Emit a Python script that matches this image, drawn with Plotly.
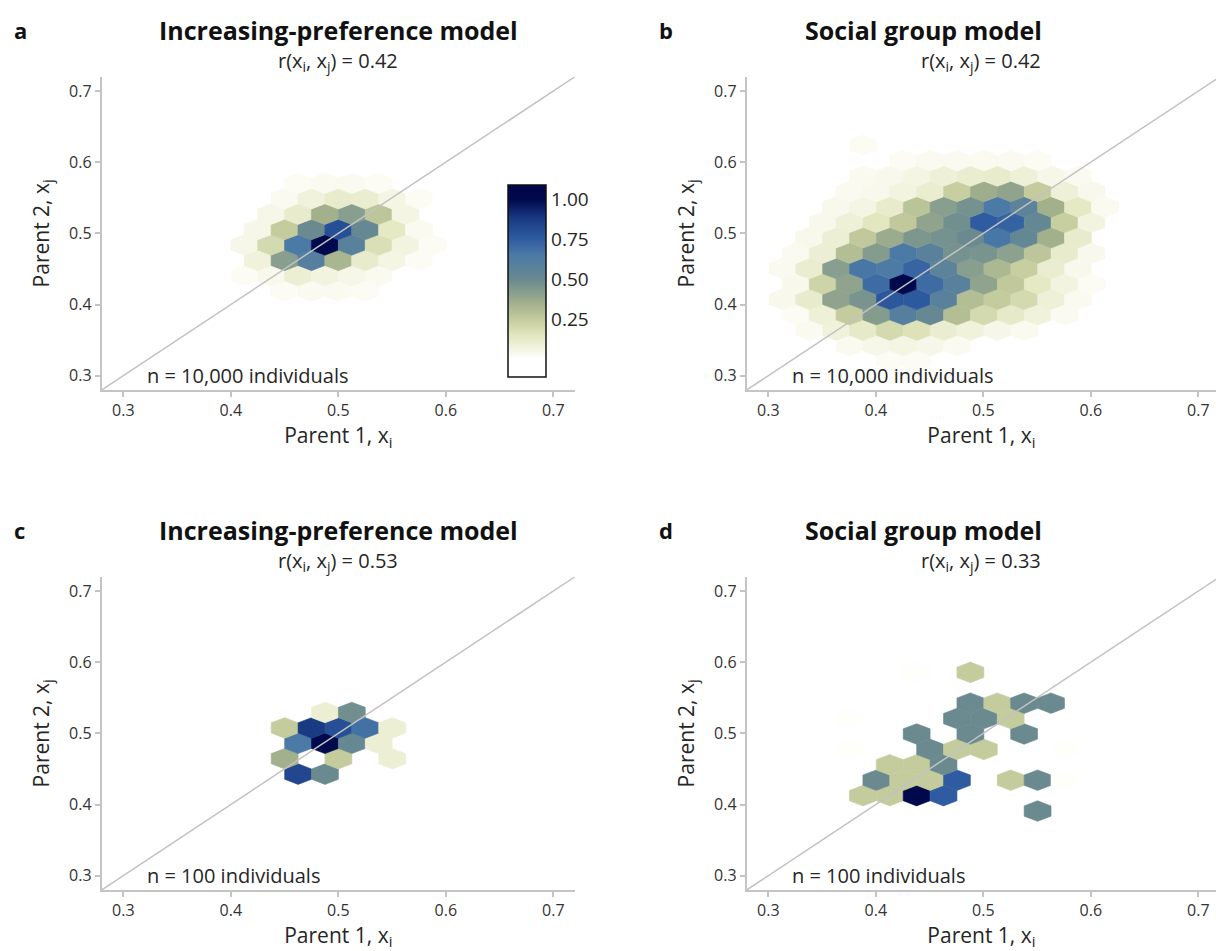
import plotly.graph_objects as go

W, H = 1216, 951
FONT = "Open Sans"
TEXT = "#262626"
AXIS_GREY = "#c4c4c4"

# hexagon geometry (pointy-top hexes, regular in data units)
HEX_W = 0.025
HEX_R = HEX_W / 3 ** 0.5
ROW_STEP = 1.5 * HEX_R

TICKS = [0.3, 0.4, 0.5, 0.6, 0.7]
TICK_TEXT = ["0.3", "0.4", "0.5", "0.6", "0.7"]
AX_RANGE = [0.28, 0.72]

# fill scale: value -> colour
FILL_STOPS = [
    (-0.11, "#ffffff"), (0.0, "#ffffff"), (0.03, "#fafaf0"), (0.08, "#f1f2dc"),
    (0.15, "#e3e7c0"), (0.25, "#c4cc9e"), (0.35, "#a2b08c"), (0.50, "#6a8a90"),
    (0.65, "#4c7aa6"), (0.75, "#2f5ca0"), (0.88, "#1a3a84"), (1.00, "#00094c"),
    (1.09, "#00074a"),
]
CB_MIN, CB_MAX = FILL_STOPS[0][0], FILL_STOPS[-1][0]

# ---- panel a: increasing-preference model, n = 10,000 ----
A_REF = (0.4875, 0.4837)
A_ROWS = [-3, -2, -1, 0, 1, 2, 3, 4]
A_START = [-2, -3, -3, -3, -3, -2, -2, -1]
A_VALUES = [
    [0.02, 0.03, 0.03, 0.02],
    [0.02, 0.04, 0.10, 0.07, 0.05, 0.03],
    [0.08, 0.42, 0.60, 0.33, 0.12, 0.06, 0.02],
    [0.05, 0.20, 0.65, 1.00, 0.58, 0.18, 0.07, 0.02],
    [0.05, 0.25, 0.50, 0.80, 0.52, 0.14, 0.03],
    [0.05, 0.12, 0.35, 0.42, 0.27, 0.06],
    [0.03, 0.08, 0.12, 0.11, 0.06, 0.02],
    [0.02, 0.03, 0.03, 0.02],
]

# ---- panel b: social group model, n = 10,000 ----
B_REF = (0.4256, 0.4289)
B_ROWS = [-5, -4, -3, -2, -1, 0, 1, 2, 3, 4, 5, 6, 7, 8, 9]
B_START = [-1, -2, -4, -4, -5, -4, -5, -4, -4, -3, -3, -2, -2, 0, -2]
B_VALUES = [
    [0.02, 0.02],
    [0.03, 0.05, 0.06, 0.05, 0.03],
    [0.03, 0.08, 0.13, 0.20, 0.17, 0.11, 0.08, 0.05, 0.03],
    [0.02, 0.09, 0.25, 0.43, 0.60, 0.52, 0.30, 0.20, 0.13, 0.08, 0.03],
    [0.04, 0.12, 0.40, 0.46, 0.77, 0.76, 0.58, 0.30, 0.25, 0.20, 0.09, 0.03],
    [0.04, 0.22, 0.40, 0.70, 1.00, 0.70, 0.58, 0.40, 0.26, 0.14, 0.07, 0.02],
    [0.03, 0.11, 0.42, 0.66, 0.64, 0.72, 0.57, 0.42, 0.32, 0.24, 0.11, 0.04],
    [0.03, 0.10, 0.30, 0.43, 0.65, 0.58, 0.47, 0.46, 0.41, 0.27, 0.12, 0.04],
    [0.04, 0.10, 0.26, 0.37, 0.45, 0.47, 0.50, 0.66, 0.53, 0.35, 0.12],
    [0.04, 0.09, 0.15, 0.26, 0.40, 0.48, 0.75, 0.73, 0.53, 0.24, 0.07],
    [0.04, 0.06, 0.12, 0.28, 0.42, 0.47, 0.65, 0.57, 0.35, 0.14, 0.03],
    [0.03, 0.04, 0.07, 0.11, 0.24, 0.36, 0.40, 0.25, 0.09, 0.04],
    [0.03, 0.04, 0.06, 0.09, 0.11, 0.12, 0.09, 0.05, 0.03],
    [0.02, 0.03, 0.03, 0.03, 0.03, 0.02],
    [0.02],
]

# ---- panel c: increasing-preference model, n = 100 ----
C_REF = (0.4876, 0.4860)
C_ROWS = [-2, -1, 0, 1, 2]
C_START = [-1, -2, -1, -2, 0]
C_VALUES = [
    [0.83, 0.50],
    [0.35, None, 0.25, None, 0.10],
    [0.65, 1.00, 0.52, 0.10],
    [0.25, 0.88, 0.80, 0.68, 0.10],
    [0.10, 0.48],
]

# ---- panel d: social group model, n = 100 ----
D_REF = (0.4380, 0.4125)
D_ROWS = [-1, 0, 1, 2, 3, 4, 5, 6, 8]
D_START = [4, -2, -2, -1, -3, 0, -3, 2, 0]
D_VALUES = [
    [0.50],
    [0.25, 0.25, 1.00, 0.75],
    [0.50, 0.25, 0.25, 0.75, None, 0.25, 0.50, 0.008],
    [0.25, 0.25, 0.50],
    [0.008, None, None, 0.50, 0.25, 0.25, None, None, 0.008],
    [0.50, None, 0.50, None, 0.50],
    [0.008, None, None, None, 0.50, 0.50, 0.25],
    [0.50, 0.25, 0.50, 0.50],
    [0.008, None, 0.25],
]

TITLES = ["Increasing-preference model", "Social group model",
          "Increasing-preference model", "Social group model"]
LETTERS = ["a", "b", "c", "d"]
R_VALUES = ["0.42", "0.42", "0.53", "0.33"]
N_LABELS = ["n = 10,000 individuals", "n = 10,000 individuals",
            "n = 100 individuals", "n = 100 individuals"]
# horizontal centre of each panel title (pixels)
TITLE_CENTRES = [338.3, 923.0, 338.3, 923.0]


def hex_to_rgb(h):
    h = h.lstrip("#")
    return [int(h[i:i + 2], 16) for i in (0, 2, 4)]


def colour_at(v):
    v = max(CB_MIN, min(CB_MAX, v))
    for (v0, c0), (v1, c1) in zip(FILL_STOPS[:-1], FILL_STOPS[1:]):
        if v0 <= v <= v1:
            t = 0 if v1 == v0 else (v - v0) / (v1 - v0)
            a, b = hex_to_rgb(c0), hex_to_rgb(c1)
            rgb = [round(a[i] + (b[i] - a[i]) * t) for i in range(3)]
            return "#%02x%02x%02x" % tuple(rgb)
    return FILL_STOPS[-1][1]


COLORSCALE = [[(v - CB_MIN) / (CB_MAX - CB_MIN), c] for v, c in FILL_STOPS]


def hex_bins(ref, rows, starts, values):
    for r, m0, vals in zip(rows, starts, values):
        for k, v in enumerate(vals):
            if v is None:
                continue
            m = m0 + k
            cx = ref[0] + (m + 0.5 * (r % 2)) * HEX_W
            cy = ref[1] + r * ROW_STEP
            yield cx, cy, v


def hex_outline(cx, cy):
    dx, dy = HEX_W / 2, HEX_R / 2
    xs = [cx, cx + dx, cx + dx, cx, cx - dx, cx - dx, cx]
    ys = [cy + HEX_R, cy + dy, cy - dy, cy - HEX_R, cy - dy, cy + dy, cy + HEX_R]
    return xs, ys


# panel placement (pixels from the top-left corner of the page)
PX_PER_UNIT = 1075.0
COLS_PX = [(101.8, 574.8), (746.8, 1216.0)]
ROWS_PX = [(76.8, 389.9), (576.8, 889.9)]

PANELS = [
    (A_REF, A_ROWS, A_START, A_VALUES),
    (B_REF, B_ROWS, B_START, B_VALUES),
    (C_REF, C_ROWS, C_START, C_VALUES),
    (D_REF, D_ROWS, D_START, D_VALUES),
]

fig = go.Figure()
layout = dict(
    width=W, height=H, margin=dict(l=0, r=0, t=0, b=0),
    paper_bgcolor="white", plot_bgcolor="white", showlegend=False,
    font=dict(family=FONT, color=TEXT),
)
annotations = []

for i, (ref, rows, starts, values) in enumerate(PANELS):
    col, row = i % 2, i // 2
    sfx = "" if i == 0 else str(i + 1)
    xa, ya = "x" + sfx, "y" + sfx
    x0px, x1px = COLS_PX[col]
    y0px, y1px = ROWS_PX[row]
    x_range = [AX_RANGE[0], AX_RANGE[0] + (x1px - x0px) / PX_PER_UNIT]

    for cx, cy, v in hex_bins(ref, rows, starts, values):
        xs, ys = hex_outline(cx, cy)
        c = colour_at(v)
        fig.add_trace(go.Scatter(
            x=xs, y=ys, mode="lines", fill="toself", fillcolor=c,
            line=dict(color=c, width=0.6), hoverinfo="skip",
            xaxis=xa, yaxis=ya,
        ))

    # line of equality
    fig.add_trace(go.Scatter(
        x=AX_RANGE, y=AX_RANGE, mode="lines",
        line=dict(color="#c2c2c2", width=1.5), hoverinfo="skip",
        xaxis=xa, yaxis=ya,
    ))

    axis_common = dict(
        showline=True, linecolor=AXIS_GREY, linewidth=2,
        ticks="outside", ticklen=5, tickwidth=2, tickcolor=AXIS_GREY,
        showgrid=False, zeroline=False, tickvals=TICKS, ticktext=TICK_TEXT,
        tickfont=dict(family=FONT, size=16, color="#333333"),
    )
    layout["xaxis" + sfx] = dict(
        axis_common, domain=[x0px / W, x1px / W], range=x_range, anchor=ya,
        title=dict(text="Parent 1, x<sub>i</sub>", standoff=6,
                   font=dict(family=FONT, size=21, color=TEXT)),
    )
    layout["yaxis" + sfx] = dict(
        axis_common, domain=[1 - y1px / H, 1 - y0px / H], range=AX_RANGE,
        anchor=xa,
        title=dict(text="Parent 2, x<sub>j</sub>", standoff=14,
                   font=dict(family=FONT, size=21, color=TEXT)),
    )

    centre_px = (x0px + min(x1px, x0px + 473.0)) / 2
    top = y0px
    annotations += [
        dict(text="<b>%s</b>" % LETTERS[i], x=(x0px - 90) / W, y=1 - (top - 47) / H,
             xref="paper", yref="paper", xanchor="left", yanchor="middle",
             showarrow=False, font=dict(family=FONT, size=22, color="#111111")),
        dict(text="<b>%s</b>" % TITLES[i], x=TITLE_CENTRES[i] / W,
             y=1 - (top - 47) / H,
             xref="paper", yref="paper", xanchor="center", yanchor="middle",
             showarrow=False, font=dict(family=FONT, size=25, color="#111111")),
        dict(text="r(x<sub>i</sub>, x<sub>j</sub>) = %s" % R_VALUES[i],
             x=centre_px / W, y=1 - (top - 15) / H,
             xref="paper", yref="paper", xanchor="center", yanchor="middle",
             showarrow=False, font=dict(family=FONT, size=20, color=TEXT)),
        dict(text=N_LABELS[i], x=0.32, y=0.30, xref=xa, yref=ya,
             xanchor="left", yanchor="middle", showarrow=False,
             font=dict(family=FONT, size=20, color=TEXT)),
    ]

# colour bar for the normalised fill, shown inside panel a
fig.add_trace(go.Scatter(
    x=[0.5], y=[0.5], mode="markers", hoverinfo="skip", xaxis="x", yaxis="y",
    marker=dict(
        size=1, opacity=0, color=[0.5], colorscale=COLORSCALE,
        cmin=CB_MIN, cmax=CB_MAX, showscale=True,
        colorbar=dict(
            thickness=38, thicknessmode="pixels", len=192, lenmode="pixels",
            x=508 / W, xanchor="left", y=1 - 281 / H, yanchor="middle",
            xpad=0, ypad=0, outlinewidth=1.5, outlinecolor="#111111",
            tickvals=[0.25, 0.5, 0.75, 1.0],
            ticktext=["0.25", "0.50", "0.75", "1.00"], ticks="",
            tickfont=dict(family=FONT, size=19, color=TEXT),
        ),
    ),
))

layout["annotations"] = annotations
fig.update_layout(**layout)
fig.write_html("out.html")
